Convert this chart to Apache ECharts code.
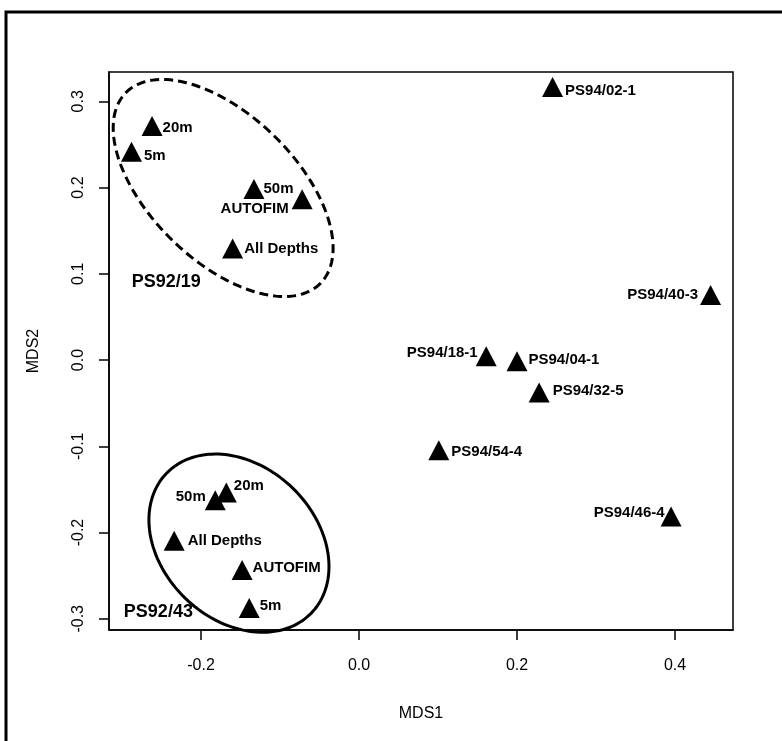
<!DOCTYPE html>
<html>
<head>
<meta charset="utf-8">
<script src="https://cdn.jsdelivr.net/npm/echarts@6/dist/echarts.min.js"></script>
<style>
html,body{margin:0;padding:0;background:#fff;}
#chart{width:782px;height:741px;}
</style>
</head>
<body>
<div id="chart"></div>
<script>
// ---- data ----
const pointNames = ['20m','5m','50m','AUTOFIM','All Depths',
                    '20m','50m','All Depths','AUTOFIM','5m',
                    'PS94/02-1','PS94/40-3','PS94/18-1','PS94/04-1','PS94/32-5','PS94/54-4','PS94/46-4'];
const mds1 = [-0.262,-0.288,-0.133,-0.072,-0.160,
              -0.168,-0.182,-0.234,-0.148,-0.139,
               0.245, 0.445, 0.161, 0.200, 0.228, 0.101, 0.395];
const mds2 = [ 0.268, 0.238, 0.195, 0.183, 0.126,
              -0.157,-0.166,-0.213,-0.247,-0.291,
               0.313, 0.072, 0.001,-0.005,-0.041,-0.108,-0.185];

const groupNames = ['PS92/19','PS92/43'];
const groupX = [-0.244,-0.254];
const groupY = [ 0.090,-0.292];

// ellipse outlines (centre and semi-axis vectors in data units)
const ellCx = [-0.172,-0.152];
const ellCy = [ 0.1995,-0.2123];
const ellUx = [ 0.1234, 0.0919];
const ellUy = [-0.1103,-0.0808];
const ellVx = [-0.0644,-0.0674];
const ellVy = [-0.0606,-0.0644];

const xTicks = [-0.2, 0.0, 0.2, 0.4];
const yTicks = [-0.3,-0.2,-0.1, 0.0, 0.1, 0.2, 0.3];

// ---- label placement (style) ----
const labelPlace = [
  ['right',0,2],['right',2,4],['right',-1,0],['left',3,10],['right',1,0],
  ['right',-3,-7],['left',-1,-3],['right',3,0],['right',0,-2],['right',0,-2],
  ['right',2,4],['left',2,0],['left',-2,-3],['right',1,-2],['right',3,-2],['right',2,2],['left',-4,-4]
];

const chart = echarts.init(document.getElementById('chart'), null, {renderer:'canvas'});

const pts = pointNames.map((n,i)=>({
  value:[mds1[i], mds2[i]],
  name:n,
  label:{
    show:true,
    formatter:n,
    position:labelPlace[i][0],
    distance:labelPlace[i][1],
    offset:[0,labelPlace[i][2]]
  }
}));

const groups = groupNames.map((n,i)=>({value:[groupX[i],groupY[i]], name:n}));
const ells = ellCx.map((c,i)=>[c, ellCy[i], ellUx[i], ellUy[i], ellVx[i], ellVy[i]]);

const FONT = '"Liberation Sans", Arial, Helvetica, sans-serif';

chart.setOption({
  animation:false,
  backgroundColor:'#fff',
  graphic:[{
    type:'rect', silent:true, z:100,
    shape:{x:6,y:12,width:820,height:800},
    style:{fill:null, stroke:'#000', lineWidth:3}
  }],
  grid:{left:109, top:72, width:624, height:558, show:true, borderColor:'#000', borderWidth:1.5, backgroundColor:'transparent'},
  xAxis:{
    type:'value', min:-0.3165, max:0.4734,
    name:'MDS1', nameLocation:'middle', nameGap:76,
    nameTextStyle:{color:'#000', fontSize:16, fontFamily:FONT},
    axisLine:{show:true, onZero:false, lineStyle:{color:'#000', width:1.5}},
    axisTick:{show:true, length:10, customValues:xTicks, lineStyle:{color:'#000', width:1.5}},
    axisLabel:{show:true, customValues:xTicks, margin:28, color:'#000', fontSize:16, fontFamily:FONT,
      formatter:v=>v.toFixed(1)},
    splitLine:{show:false}
  },
  yAxis:{
    type:'value', min:-0.313, max:0.334,
    name:'MDS2', nameLocation:'middle', nameGap:67,
    nameTextStyle:{color:'#000', fontSize:16, fontFamily:FONT},
    axisLine:{show:true, onZero:false, lineStyle:{color:'#000', width:1.5}},
    axisTick:{show:true, length:10, customValues:yTicks, lineStyle:{color:'#000', width:1.5}},
    axisLabel:{show:true, customValues:yTicks, rotate:90, margin:22, color:'#000', fontSize:16, fontFamily:FONT,
      formatter:v=>v.toFixed(1)},
    splitLine:{show:false}
  },
  series:[
    {
      type:'custom',
      clip:false,
      silent:true,
      encode:{x:0, y:1},
      data:ells,
      renderItem:function(params, api){
        const i = params.dataIndex;
        const cx=api.value(0), cy=api.value(1), ux=api.value(2), uy=api.value(3), vx=api.value(4), vy=api.value(5);
        const points=[];
        const N=160;
        for(let k=0;k<N;k++){
          const t=2*Math.PI*k/N;
          points.push(api.coord([cx+ux*Math.cos(t)+vx*Math.sin(t), cy+uy*Math.cos(t)+vy*Math.sin(t)]));
        }
        return {
          type:'polygon',
          shape:{points:points},
          style:{fill:'none', stroke:'#000', lineWidth:3, lineDash: i===0 ? [9,5] : null}
        };
      }
    },
    {
      type:'scatter',
      silent:true,
      symbol:'triangle',
      symbolSize:[21,20],
      symbolOffset:[0,-3],
      itemStyle:{color:'#000', opacity:1},
      label:{color:'#000', fontSize:15, fontWeight:'bold', fontFamily:FONT},
      data:pts,
      z:5
    },
    {
      type:'scatter',
      silent:true,
      symbolSize:0,
      itemStyle:{opacity:1},
      label:{show:true, position:'inside', formatter:'{b}', color:'#000', fontSize:18, fontWeight:'bold', fontFamily:FONT},
      data:groups,
      z:5
    }
  ]
});
</script>
</body>
</html>
